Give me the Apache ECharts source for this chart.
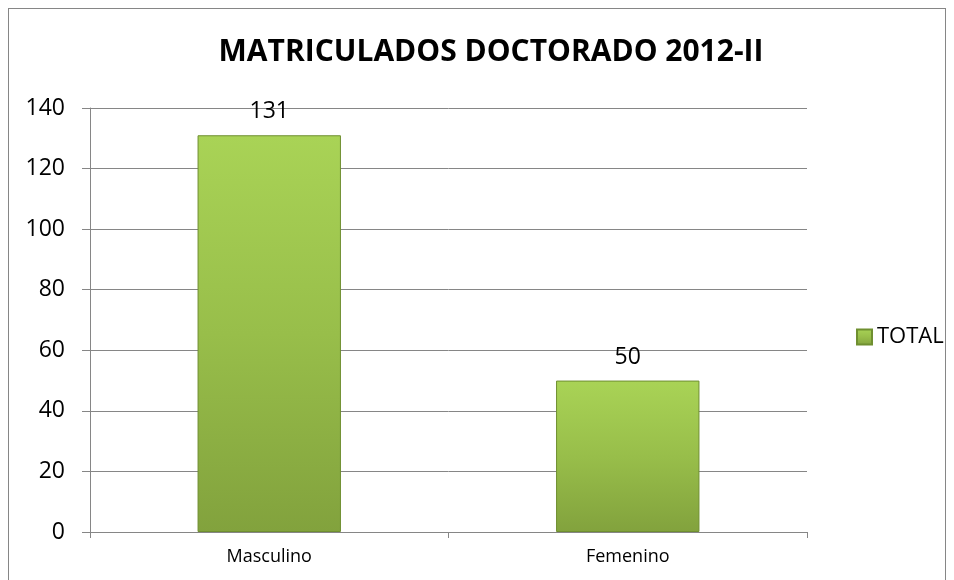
<!DOCTYPE html>
<html>
<head>
<meta charset="utf-8">
<title>Matriculados Doctorado 2012-II</title>
<script src="https://cdn.jsdelivr.net/npm/echarts@6/dist/echarts.min.js"></script>
<style>
  html, body { margin: 0; padding: 0; background: #fff; }
  #frame { position: absolute; left: 8px; top: 8px; width: 938px; height: 580px; border: 1px solid #868686; box-sizing: border-box; }
  #chartmain { position: absolute; left: 0; top: 0; width: 954px; height: 580px; }
</style>
</head>
<body>
<div id="frame"></div>
<div id="chartmain"></div>
<script type="text/javascript">
    // datos
    var categorias = ['Masculino', 'Femenino'];
    var totales = [131, 50];
    var nombreSerie = 'TOTAL';
    var titulo = 'MATRICULADOS DOCTORADO 2012-II';

    var myChart = echarts.init(document.getElementById('chartmain'));

    var option = {
        animation: false,
        title: {
            text: titulo,
            left: 486,
            top: 32,
            textAlign: 'center',
            textStyle: { fontFamily: 'Open Sans', fontWeight: 'bold', fontSize: 30, color: '#000' }
        },
        legend: {
            data: [nombreSerie],
            orient: 'vertical',
            left: 851,
            top: 321,
            itemWidth: 15,
            itemHeight: 15,
            itemGap: 4,
            icon: 'rect',
            textStyle: { fontFamily: 'Open Sans', fontSize: 22, color: '#000' }
        },
        grid: { left: 90, right: 147, top: 108, bottom: 48, containLabel: false },
        xAxis: {
            type: 'category',
            data: categorias,
            axisLine: { lineStyle: { color: '#868686', width: 1 } },
            axisTick: { show: true, length: 6, lineStyle: { color: '#868686' } },
            axisLabel: { fontFamily: 'Open Sans', fontSize: 18, color: '#000', margin: 16 }
        },
        yAxis: {
            type: 'value',
            min: 0,
            max: 140,
            interval: 20,
            axisLine: { show: true, lineStyle: { color: '#868686', width: 1 } },
            axisTick: { show: true, length: 8, lineStyle: { color: '#868686' } },
            axisLabel: { fontFamily: 'Open Sans', fontSize: 23, color: '#000', margin: 25 },
            splitLine: { lineStyle: { color: '#868686', width: 1 } }
        },
        series: [{
            name: nombreSerie,
            type: 'bar',
            data: totales,
            barWidth: '40%',
            itemStyle: {
                color: new echarts.graphic.LinearGradient(0, 0, 0, 1, [
                    { offset: 0, color: '#a9d356' },
                    { offset: 0.5, color: '#98be4a' },
                    { offset: 1, color: '#82a23d' }
                ]),
                borderColor: '#6f8f30',
                borderWidth: 1
            },
            label: {
                show: true,
                position: 'top',
                distance: 12,
                fontFamily: 'Open Sans',
                fontSize: 23,
                color: '#000'
            }
        }]
    };

    myChart.setOption(option);
</script>
</body>
</html>
